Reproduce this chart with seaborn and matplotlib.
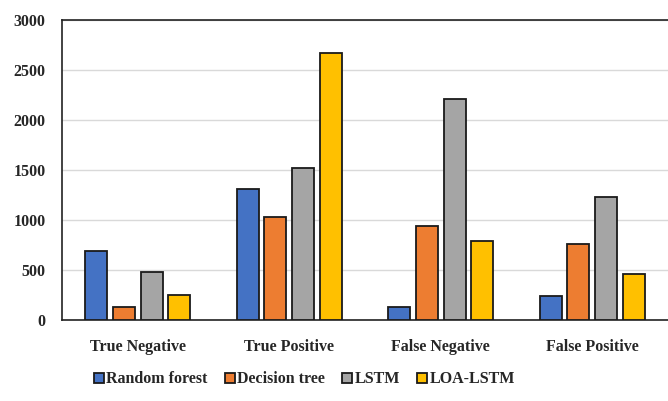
import pandas as pd
import matplotlib
matplotlib.use('Agg')
import matplotlib.pyplot as plt
import seaborn as sns

# valores
categorias = ['True Negative', 'True Positive', 'False Negative', 'False Positive']
modelos = ['Random forest', 'Decision tree', 'LSTM', 'LOA-LSTM']
random_forest = [690, 1310, 127, 240]
decision_tree = [130, 1033, 943, 760]
lstm = [477, 1523, 2210, 1233]
loa_lstm = [253, 2675, 790, 460]
cores = ['#4472C4', '#ED7D31', '#A5A5A5', '#FFC000']

df = pd.DataFrame({
    'categoria': categorias * 4,
    'modelo': [m for m in modelos for _ in categorias],
    'valor': random_forest + decision_tree + lstm + loa_lstm,
})

sns.set_style('white')
plt.rcParams['font.family'] = ['Liberation Serif', 'DejaVu Serif']
plt.rcParams['font.weight'] = 'bold'

fig = plt.figure(figsize=(6.68, 4.01), dpi=100)
ax = fig.add_axes([62 / 668, 81 / 401, 606 / 668, 300 / 401])

sns.barplot(data=df, x='categoria', y='valor', hue='modelo', order=categorias,
            hue_order=modelos, palette=cores, saturation=1, width=0.73, gap=0.2,
            edgecolor='#1a1a1a', linewidth=1.3, ax=ax, zorder=3)

ax.set_ylim(0, 3000)
ax.set_xlim(-0.5, 3.5)
ax.set_yticks(range(0, 3001, 500))
ax.yaxis.grid(True, color='#d9d9d9', linewidth=1, zorder=0)
ax.set_axisbelow(True)
for s in ['left', 'top', 'bottom']:
    ax.spines[s].set_color('#222222')
    ax.spines[s].set_linewidth(1.2)
ax.spines['right'].set_visible(False)
ax.tick_params(axis='y', length=0, pad=12, labelsize=11.5)
ax.tick_params(axis='x', length=0, pad=14, labelsize=11.5)
for t in ax.get_xticklabels() + ax.get_yticklabels():
    t.set_fontweight('bold')
ax.set_xlabel('')
ax.set_ylabel('')

ax.legend(loc='upper center', bbox_to_anchor=(0.40, -0.15), ncol=4, frameon=False,
          prop={'size': 11.5, 'weight': 'bold'}, handlelength=0.6, handleheight=0.6,
          handletextpad=0.15, columnspacing=1.1, borderaxespad=0)

fig.savefig('out.png', dpi=100)
